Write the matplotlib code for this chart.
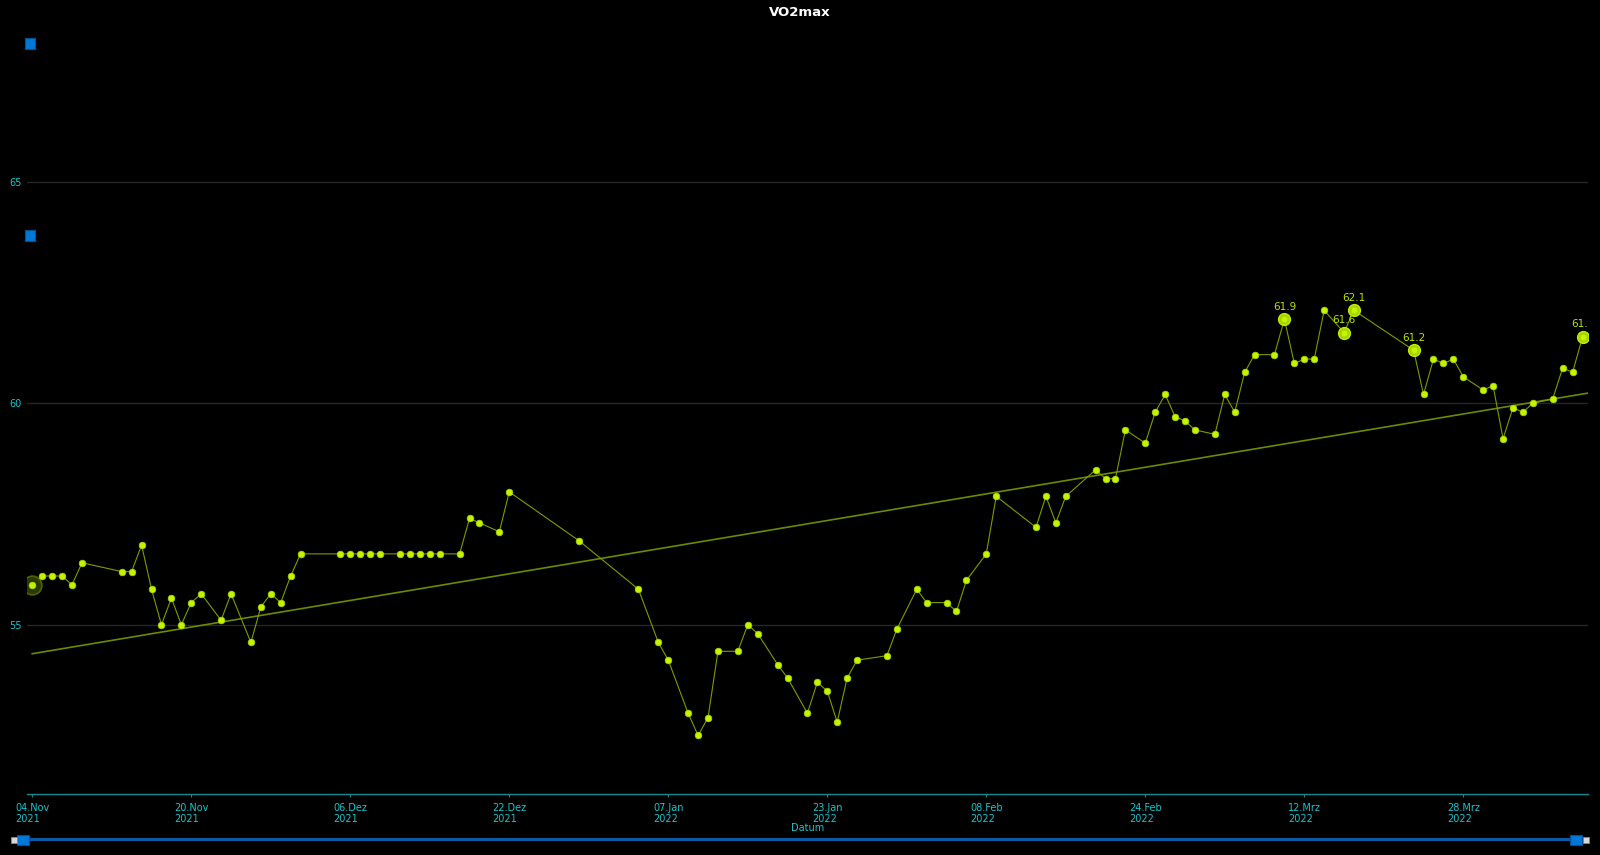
import matplotlib
matplotlib.use("Agg")
from matplotlib import pyplot as plt
from matplotlib.patches import Rectangle
import numpy as np
import pandas as pd

# Data
start_date = "2021-11-04"
day_offsets = [0, 1, 2, 3, 4, 5, 9, 10, 11, 12, 13, 14, 15, 16, 17, 19, 20, 22, 23, 24,
               25, 26, 27, 31, 32, 33, 34, 35, 37, 38, 39, 40, 41, 43, 44, 45, 47, 48, 55, 61,
               63, 64, 66, 67, 68, 69, 71, 72, 73, 75, 76, 78, 79, 80, 81, 82, 83, 86, 87, 89,
               90, 92, 93, 94, 96, 97, 101, 102, 103, 104, 107, 108, 109, 110, 112, 113, 114, 115, 116, 117,
               119, 120, 121, 122, 123, 125, 126, 127, 128, 129, 130, 132, 133, 139, 140, 141, 142, 143, 144, 146,
               147, 148, 149, 150, 151, 153, 154, 155, 156]
vo2max = [55.9, 56.1, 56.1, 56.1, 55.9, 56.4, 56.2, 56.2, 56.8, 55.8, 55.0, 55.6, 55.0, 55.5, 55.7, 55.1, 55.7, 54.6, 55.4, 55.7,
          55.5, 56.1, 56.6, 56.6, 56.6, 56.6, 56.6, 56.6, 56.6, 56.6, 56.6, 56.6, 56.6, 56.6, 57.4, 57.3, 57.1, 58.0, 56.9, 55.8,
          54.6, 54.2, 53.0, 52.5, 52.9, 54.4, 54.4, 55.0, 54.8, 54.1, 53.8, 53.0, 53.7, 53.5, 52.8, 53.8, 54.2, 54.3, 54.9, 55.8,
          55.5, 55.5, 55.3, 56.0, 56.6, 57.9, 57.2, 57.9, 57.3, 57.9, 58.5, 58.3, 58.3, 59.4, 59.1, 59.8, 60.2, 59.7, 59.6, 59.4,
          59.3, 60.2, 59.8, 60.7, 61.1, 61.1, 61.9, 60.9, 61.0, 61.0, 62.1, 61.6, 62.1, 61.2, 60.2, 61.0, 60.9, 61.0, 60.6, 60.3,
          60.4, 59.2, 59.9, 59.8, 60.0, 60.1, 60.8, 60.7, 61.5]
labeled_days = [126, 132, 133, 139, 156]
halo_day = 0

tick_labels = ["04.Nov\n2021", "20.Nov\n2021", "06.Dez\n2021", "22.Dez\n2021", "07.Jan\n2022",
               "23.Jan\n2022", "08.Feb\n2022", "24.Feb\n2022", "12.Mrz\n2022", "28.Mrz\n2022"]
y_ticks = [55, 60, 65]

# Colors
cyan = "#1cc4cc"
teal = "#178b8b"
lime = "#c4f400"
olive = "#7d9c00"

start = pd.Timestamp(start_date)
dates = start + pd.to_timedelta(day_offsets, unit="D")
tick_dates = pd.date_range(start, periods=len(tick_labels), freq="16D")

# Figure
W, H = 1600, 855
fig = plt.figure(figsize=(W / 100, H / 100), dpi=100, facecolor="black")
ax = fig.add_axes([27 / W, 1 - 794.3 / H, (1588 - 27) / W, (794.3 - 27) / H])
ax.set_facecolor("black")

# Trend line (least squares)
slope, icpt = np.polyfit(day_offsets, vo2max, 1)
trend_days = np.array([0, 156.55])
trend_dates = start + pd.to_timedelta(trend_days, unit="D")
ax.plot(trend_dates, icpt + slope * trend_days, color="#6c8a00", lw=1.2, zorder=2)

# Series
ax.plot(dates, vo2max, color=olive, lw=0.8, zorder=3)

# Halo on first point
h_idx = day_offsets.index(halo_day)
ax.plot([dates[h_idx]], [vo2max[h_idx]], "o", ms=13.5, mfc="#2c3a00", mec="#4d6400", mew=1.2, zorder=3)

# Labeled points
for d in labeled_days:
    i = day_offsets.index(d)
    ax.plot([dates[i]], [vo2max[i]], "o", ms=8.5, mfc="#a6d400", mec="#c0ec00", mew=1, zorder=4)
    ax.annotate(f"{vo2max[i]:.1f}", (dates[i], vo2max[i]), xytext=(0, 5.5), textcoords="offset points",
                ha="center", va="bottom", color="#b8e400", fontsize=7.5, zorder=6, annotation_clip=False,
                clip_on=True)

ax.plot(dates, vo2max, "o", ms=4.8, mfc=lime, mec="#a8d400", mew=0.5, lw=0, zorder=5)

# Axes
ax.set_xlim(start - pd.Timedelta(days=0.53), start + pd.Timedelta(days=156.55))
ax.set_ylim(51.17, 68.5)
ax.set_xticks(tick_dates)
ax.set_xticklabels(tick_labels, ha="center", multialignment="left")
ax.set_yticks(y_ticks)
ax.tick_params(axis="x", colors=teal, labelcolor=cyan, labelsize=7, length=2, pad=4)
ax.tick_params(axis="y", length=0, labelcolor=cyan, labelsize=7, pad=4)
ax.grid(axis="y", color="#262626", lw=1)
ax.grid(axis="x", visible=False)
for s in ["top", "right", "left"]:
    ax.spines[s].set_visible(False)
ax.spines["bottom"].set_color(teal)
ax.spines["bottom"].set_linewidth(1)
ax.set_xlabel("Datum", color=cyan, fontsize=7, labelpad=0)
ax.xaxis.set_label_coords(0.5, -0.037)

# Title
fig.text(0.5, 1 - 12 / H, "VO2max", ha="center", va="center", color="white", fontsize=9.5, fontweight="bold")

# Navigator widgets
def px_rect(x0, y0, x1, y1, **kw):
    fig.add_artist(Rectangle((x0 / W, 1 - y1 / H), (x1 - x0) / W, (y1 - y0) / H,
                             transform=fig.transFigure, **kw))

px_rect(25, 38, 35, 49, facecolor="#0078d7", edgecolor="#004f99", lw=0.8)
px_rect(25, 230, 35, 241, facecolor="#0078d7", edgecolor="#004f99", lw=0.8)
px_rect(17, 838, 1583, 841, facecolor="#0b5aa6", edgecolor="none")
px_rect(17, 835, 29, 845, facecolor="#0078d7", edgecolor="#004f99", lw=0.8)
px_rect(1570, 835, 1582, 845, facecolor="#0078d7", edgecolor="#004f99", lw=0.8)
px_rect(11, 837, 17, 843, facecolor="#d8d8d8", edgecolor="#888888", lw=0.6)
px_rect(1583, 837, 1589, 843, facecolor="#d8d8d8", edgecolor="#888888", lw=0.6)

plt.savefig("out.png", dpi=100, facecolor="black")
